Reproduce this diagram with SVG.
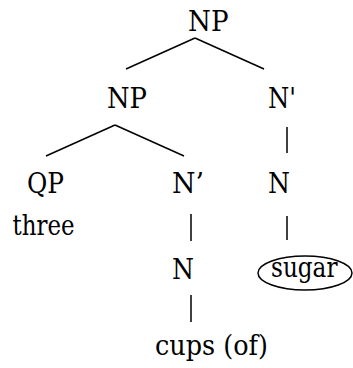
<svg xmlns="http://www.w3.org/2000/svg" width="353" height="368" viewBox="0 0 353 368">
<style>
text{font-family:'DejaVu Serif',serif;font-size:28.5px;fill:#000}
.e{stroke:#000;stroke-width:1.5;fill:none}
</style>
<rect width="353" height="368" fill="#fff"/>
<g id="connectors">
<line class="e" x1="195" y1="38" x2="126" y2="69"/>
<line class="e" x1="195" y1="38" x2="264" y2="69"/>
<line class="e" x1="115" y1="125" x2="46" y2="156"/>
<line class="e" x1="115" y1="125" x2="184" y2="156"/>
<line class="e" x1="287" y1="127" x2="287" y2="153"/>
<line class="e" x1="191" y1="214" x2="191" y2="241"/>
<line class="e" x1="287" y1="216" x2="287" y2="240"/>
<line class="e" x1="191" y1="295" x2="191" y2="322"/>
</g>
<g id="np-root"><text x="188" y="31" textLength="40.5" lengthAdjust="spacingAndGlyphs">NP</text></g>
<g id="np-left"><text x="107" y="108" textLength="40" lengthAdjust="spacingAndGlyphs">NP</text></g>
<g id="nbar-right"><text x="268" y="108" textLength="28" lengthAdjust="spacingAndGlyphs">N'</text></g>
<g id="qp"><text x="27" y="193" textLength="37" lengthAdjust="spacingAndGlyphs">QP</text><text x="12.5" y="235" textLength="62" lengthAdjust="spacingAndGlyphs">three</text></g>
<g id="nbar-mid"><text x="172" y="193" textLength="32" lengthAdjust="spacingAndGlyphs">N’</text></g>
<g id="n-right"><text x="268" y="193" textLength="22" lengthAdjust="spacingAndGlyphs">N</text></g>
<g id="n-mid"><text x="172" y="279" textLength="22" lengthAdjust="spacingAndGlyphs">N</text></g>
<g id="sugar"><ellipse class="e" cx="305" cy="273" rx="47" ry="17"/><text x="271" y="277" textLength="66.5" lengthAdjust="spacingAndGlyphs">sugar</text></g>
<g id="cups"><text x="155" y="355" textLength="113" lengthAdjust="spacingAndGlyphs">cups (of)</text></g>
</svg>
